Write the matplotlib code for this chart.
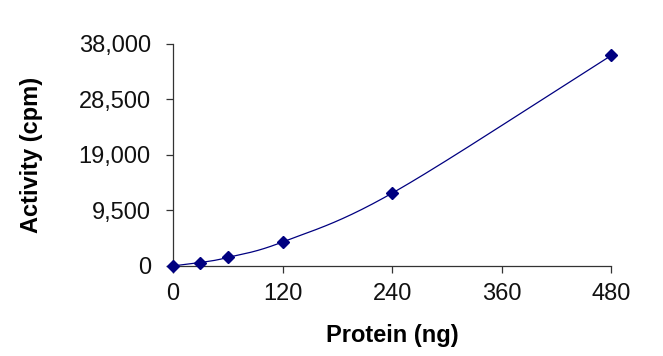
"""
Activity vs protein amount, Excel-style smoothed line with diamond markers
"""
import numpy as np
import matplotlib
matplotlib.use('Agg')
import matplotlib.pyplot as plt
from matplotlib.ticker import FuncFormatter

plt.rcParams['font.family'] = ['Liberation Sans', 'DejaVu Sans']

# data
protein = [0, 30, 60, 120, 240, 480]
activity = [0, 580, 1450, 4100, 12450, 36000]

x_ticks = [0, 120, 240, 360, 480]
y_ticks = [0, 9500, 19000, 28500, 38000]

navy = '#000080'


def smooth_curve(xs, ys, n=40):
    # Catmull-Rom through the points, like Excel's "smoothed line"
    px = np.array(xs, dtype=float)
    py = np.array(ys, dtype=float)
    px = np.concatenate([[2*px[0]-px[1]], px, [2*px[-1]-px[-2]]])
    py = np.concatenate([[2*py[0]-py[1]], py, [2*py[-1]-py[-2]]])
    out_x, out_y = [], []
    t = np.linspace(0, 1, n)
    for i in range(1, len(px)-2):
        for arr, out in ((px, out_x), (py, out_y)):
            p0, p1, p2, p3 = arr[i-1], arr[i], arr[i+1], arr[i+2]
            c = 0.5*((2*p1) + (-p0+p2)*t + (2*p0-5*p1+4*p2-p3)*t**2
                     + (-p0+3*p1-3*p2+p3)*t**3)
            out.extend(c)
    return out_x, out_y


fig = plt.figure(figsize=(6.63, 3.56), dpi=100)
ax = fig.add_axes([0.261, 0.253, 0.661, 0.624])

cx, cy = smooth_curve(protein, activity)
ax.plot(cx, cy, '-', color=navy, lw=0.9, clip_on=False)
ax.plot(protein, activity, 'D', color=navy, markersize=6, clip_on=False, zorder=3)

ax.set_xlim(0, 480)
ax.set_ylim(0, 38000)
ax.set_xticks(x_ticks)
ax.set_yticks(y_ticks)
ax.yaxis.set_major_formatter(FuncFormatter(lambda v, p: '{:,.0f}'.format(v)))

for s in ['top', 'right']:
    ax.spines[s].set_visible(False)
for s in ['left', 'bottom']:
    ax.spines[s].set_color('#333333')
    ax.spines[s].set_linewidth(0.9)

ax.tick_params(axis='both', direction='out', length=5, width=0.9,
               color='#333333', labelsize=17, labelcolor='#111111')
ax.tick_params(axis='y', pad=11)
ax.tick_params(axis='x', pad=7)

ax.set_xlabel('Protein (ng)', fontsize=17, fontweight='bold', labelpad=14)
ax.set_ylabel('Activity (cpm)', fontsize=17, fontweight='bold', labelpad=26)

fig.savefig('out.png', dpi=100)
